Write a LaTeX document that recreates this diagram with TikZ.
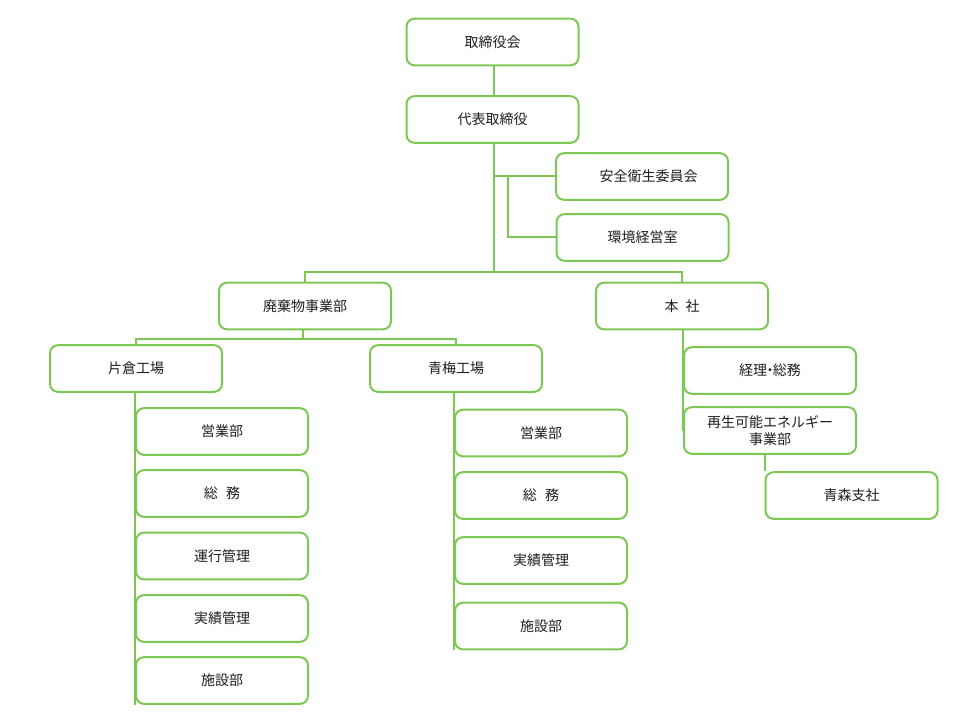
\documentclass[tikz,border=0pt]{standalone}
\usepackage{fontspec}
\newfontfamily\jp{Noto Sans CJK JP}
\definecolor{boxgreen}{RGB}{125,200,85}
\definecolor{txt}{RGB}{30,30,30}
\begin{document}
\begin{tikzpicture}[x=0.75pt,y=-0.75pt,
  orgbox/.style={draw=boxgreen,line width=1.5pt,rounded corners=6pt,fill=white,
    minimum width=129pt,minimum height=35pt,inner sep=0pt,align=center,
    font=\jp\fontsize{10.5}{13}\selectfont,text=txt},
  link/.style={draw=boxgreen,line width=1.5pt}]
\useasboundingbox (0,0) rectangle (960,720);
\coordinate (j1) at (494,272);
\coordinate (j2) at (494,176.5);
\coordinate (j3) at (508,176.5);
\coordinate (j4) at (303,339);
% boxes
\node[orgbox] (board) at (492.5,42) {取締役会};
\node[orgbox] (ceo) at (492.5,119.5) {代表取締役};
\node[orgbox] (anzen) at (642,176.5) {\hspace{10pt}安全衛生委員会};
\node[orgbox] (kankyo) at (642.5,237.5) {環境経営室};
\node[orgbox] (haiki) at (305,306) {廃棄物事業部};
\node[orgbox] (honsha) at (682,306) {本\hspace{0.5em}社};
\node[orgbox] (kata) at (136,368.5) {片倉工場};
\node[orgbox] (ome) at (456,368.5) {青梅工場};
\node[orgbox] (k1) at (222,431.5) {営業部};
\node[orgbox] (k2) at (222,493.5) {総\hspace{0.6em}務};
\node[orgbox] (k3) at (222,556) {運行管理};
\node[orgbox] (k4) at (222,618.5) {実績管理};
\node[orgbox] (k5) at (222,680.5) {施設部};
\node[orgbox] (o1) at (541,433) {営業部};
\node[orgbox] (o2) at (541,495.5) {総\hspace{0.6em}務};
\node[orgbox] (o3) at (541,560.5) {実績管理};
\node[orgbox] (o4) at (541,626) {施設部};
\node[orgbox] (keiri) at (770,370.5) {経理\kern-0.3em・\kern-0.3em総務};
\node[orgbox] (saisei) at (770,430.5) {再生可能エネルギー\\[0pt]事業部};
\node[orgbox] (aomori) at (851.5,495.5) {青森支社};
% links
\draw[link] (board.south -| j1) -- (ceo.north -| j1);
\draw[link] (ceo.south -| j1) -- (j1);
\draw[link] (haiki.north) -- (haiki.north |- j1) -- (honsha.north |- j1) -- (honsha.north);
\draw[link] (j2) -- (anzen.west);
\draw[link] (j3) -- (j3 |- kankyo.west) -- (kankyo.west);
\draw[link] (haiki.south -| j4) -- (j4);
\draw[link] (kata.north) -- (kata.north |- j4) -- (ome.north |- j4) -- (ome.north);
\draw[link] (k1.west |- kata.south) -- (k5.south west);
\draw[link] (o1.west |- ome.south) -- (o4.south west);
\draw[link] (keiri.west |- honsha.south) -- (saisei.west);
\draw[link] (aomori.north west |- saisei.south) -- (aomori.north west);
\end{tikzpicture}
\end{document}
